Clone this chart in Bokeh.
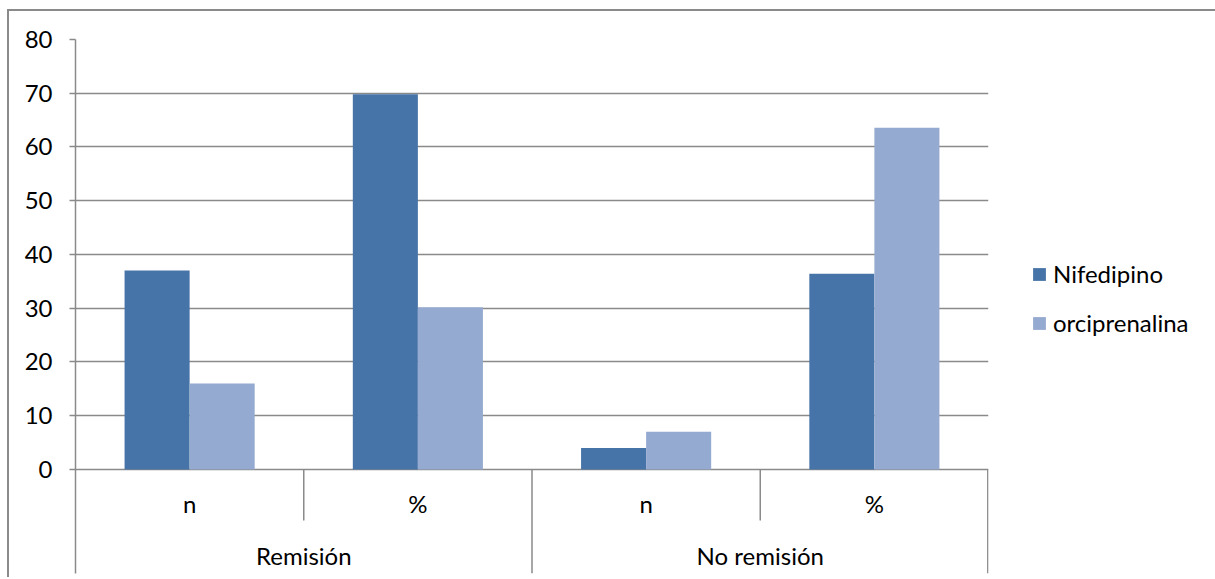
from bokeh.plotting import figure
from bokeh.models import (FactorRange, Range1d, FixedTicker, ColumnDataSource,
                          Legend, LegendItem)
from bokeh.transform import dodge
from bokeh.layouts import column
from bokeh.core.properties import value
from bokeh.embed import file_html
from bokeh.resources import INLINE

# ---- data ----
groups = ["Remisión", "No remisión"]
subcats = ["n", "%"]
nifedipino = [37, 69.8, 4, 36.4]
orciprenalina = [16, 30.2, 7, 63.6]
series_names = ["Nifedipino", "orciprenalina"]
y_ticks = [0, 10, 20, 30, 40, 50, 60, 70, 80]

# ---- styles ----
FONT = "Lato"
FS = "24px"
C_NIF = "#4673a8"
C_ORC = "#95aad0"
GRID = "#8a8a8a"
Y_BOTTOM = -19.35

factors = [(g, s) for g in groups for s in subcats]

x_range = FactorRange(factors=factors, factor_padding=0, group_padding=0,
                      subgroup_padding=0, range_padding=0)
y_range = Range1d(Y_BOTTOM, 80)

p = figure(x_range=x_range, y_range=y_range, output_backend="svg",
           toolbar_location=None, x_axis_location=None,
           frame_width=913, frame_height=534, width=1188, height=566,
           min_border_left=66, min_border_top=28, min_border_bottom=4,
           min_border_right=209)
p.outline_line_color = None
p.background_fill_color = "white"
p.border_fill_color = "white"

src = ColumnDataSource(dict(x=factors, nif=nifedipino, orc=orciprenalina))
r1 = p.vbar(x=dodge("x", -0.1425, range=p.x_range), top="nif", bottom=0,
            width=0.285, source=src, fill_color=C_NIF, line_color=None)
r2 = p.vbar(x=dodge("x", 0.1425, range=p.x_range), top="orc", bottom=0,
            width=0.285, source=src, fill_color=C_ORC, line_color=None)

# y axis
yax = p.yaxis[0]
yax.ticker = FixedTicker(ticks=y_ticks)
yax.axis_line_color = GRID
yax.axis_line_width = 1.5
yax.major_tick_line_color = GRID
yax.major_tick_line_width = 1.5
yax.major_tick_in = 0
yax.major_tick_out = 6
yax.minor_tick_line_color = None
yax.major_label_standoff = 17
yax.major_label_text_font = FONT
yax.major_label_text_font_size = FS
yax.major_label_text_color = "black"

p.ygrid.grid_line_color = GRID
p.ygrid.grid_line_width = 1.5
p.xgrid.visible = False

# category axis separators
inner_x = [("Remisión", "%", -0.5), ("No remisión", "%", -0.5)]
p.segment(x0=inner_x, x1=inner_x, y0=[0, 0], y1=[-9.49, -9.49],
          line_color=GRID, line_width=1.5)
outer_x = [("No remisión", "n", -0.5), ("No remisión", "%", 0.497)]
p.segment(x0=outer_x, x1=outer_x, y0=[0, 0], y1=[Y_BOTTOM, Y_BOTTOM],
          line_color=GRID, line_width=1.5)

# category labels
p.text(x=factors, y=[-6.33] * len(factors), text=[f[1] for f in factors],
       text_align="center", text_baseline="middle", text_font=value(FONT),
       text_font_size=FS, text_color="black")
p.text(x=groups, y=[-16.0] * len(groups), text=groups,
       text_align="center", text_baseline="middle", text_font=value(FONT),
       text_font_size=FS, text_color="black")

legend = Legend(items=[LegendItem(label=series_names[0], renderers=[r1]),
                       LegendItem(label=series_names[1], renderers=[r2])],
                location=(43, 236), orientation="vertical")
legend.glyph_width = 16
legend.glyph_height = 16
legend.label_height = 16
legend.spacing = 20
legend.padding = 0
legend.margin = 0
legend.label_standoff = 6
legend.label_text_font = FONT
legend.label_text_font_size = FS
legend.label_text_color = "black"
legend.border_line_color = None
legend.background_fill_alpha = 0
p.add_layout(legend, "right")

inner = column(p, styles={"border-top": "2px solid #8a8a8a",
                          "border-left": "2px solid #8a8a8a"})
layout = column(inner, styles={"padding": "9px 0px 0px 7px",
                               "background-color": "white"})

open("out.html", "w").write(file_html(layout, INLINE))
